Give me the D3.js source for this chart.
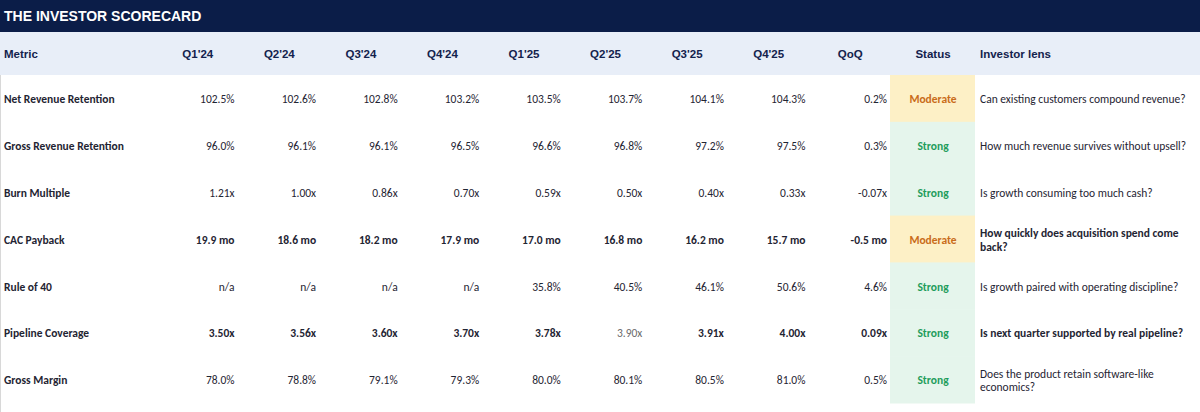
<!DOCTYPE html>
<html>
<head>
<meta charset="utf-8">
<script src="https://cdn.jsdelivr.net/npm/d3@7"></script>
<style>
  html, body { margin: 0; padding: 0; background: #fff; }
  svg { display: block; }
</style>
</head>
<body>
<svg class="scorecard"></svg>
<script>
/////////////// data ////////////////
const QUARTERS = ["Q1'24", "Q2'24", "Q3'24", "Q4'24", "Q1'25", "Q2'25", "Q3'25", "Q4'25"];
const METRICS = ["Net Revenue Retention", "Gross Revenue Retention", "Burn Multiple", "CAC Payback",
    "Rule of 40", "Pipeline Coverage", "Gross Margin"];
// unit of each metric: pct, x (multiple), mo (months)
const UNITS = ["pct", "pct", "x", "mo", "pct", "x", "pct"];
const NRR = [102.5, 102.6, 102.8, 103.2, 103.5, 103.7, 104.1, 104.3];
const GRR = [96.0, 96.1, 96.1, 96.5, 96.6, 96.8, 97.2, 97.5];
const BURN = [1.21, 1.00, 0.86, 0.70, 0.59, 0.50, 0.40, 0.33];
const CAC = [19.9, 18.6, 18.2, 17.9, 17.0, 16.8, 16.2, 15.7];
const RULE40 = [null, null, null, null, 35.8, 40.5, 46.1, 50.6];
const PIPELINE = [3.50, 3.56, 3.60, 3.70, 3.78, 3.90, 3.91, 4.00];
const GM = [78.0, 78.8, 79.1, 79.3, 80.0, 80.1, 80.5, 81.0];
const SERIES = [NRR, GRR, BURN, CAC, RULE40, PIPELINE, GM];
const QOQ = [0.2, 0.3, -0.07, -0.5, 4.6, 0.09, 0.5];
const STATUS = ["Moderate", "Strong", "Strong", "Moderate", "Strong", "Strong", "Strong"];
const LENS = ["Can existing customers compound revenue?",
    "How much revenue survives without upsell?",
    "Is growth consuming too much cash?",
    "How quickly does acquisition spend come back?",
    "Is growth paired with operating discipline?",
    "Is next quarter supported by real pipeline?",
    "Does the product retain software-like economics?"];
// rows written in bold (CAC Payback, Pipeline Coverage)
const BOLD_ROWS = [3, 5];
// Pipeline Coverage Q2'25 cell is plain grey
const PLAIN_CELLS = [[5, 5]];

/////////////// layout ////////////////
const W = 1200;
const H = 412;
const TITLE_H = 32;
const HEAD_H = 43;
const BODY_TOP = TITLE_H + HEAD_H;
const BODY_BOT = 403;
const NUM_X0 = 157;
const NUM_X1 = 891;
const STATUS_X1 = 975;
const PAD = 4;
const HEAD_FONT = "'Liberation Sans', Arial, sans-serif";
const BODY_FONT = "Carlito, Calibri, Lato, sans-serif";
const NAVY = "#0b1d48";
const HEAD_FILL = "#e8eef8";
const HEAD_TXT = "#13224d";
const BODY_TXT = "#1f2533";
const STATUS_FILL = { Moderate: "#fdf0c6", Strong: "#e5f5ec" };
const STATUS_TXT = { Moderate: "#c96c1a", Strong: "#1f9d5c" };

const SVG = d3.select(".scorecard")
    .attr("width", W)
    .attr("height", H);

const NUM_COLS = QUARTERS.concat(["QoQ"]);
const SCL_COL = d3.scaleBand()
    .domain(d3.range(NUM_COLS.length))
    .range([NUM_X0, NUM_X1]);
const SCL_ROW = d3.scaleBand()
    .domain(d3.range(METRICS.length))
    .range([BODY_TOP, BODY_BOT]);

// plain hyphen for negatives, like the source sheet
const LOCALE = d3.formatLocale({ decimal: ".", thousands: ",", grouping: [3], currency: ["$", ""], minus: "-" });
function fmt(v, unit) {
    if (v == null) return "n/a";
    if (unit == "pct") return LOCALE.format(".1f")(v) + "%";
    if (unit == "x") return LOCALE.format(".2f")(v) + "x";
    return LOCALE.format(".1f")(v) + " mo";
}

/////////////// title + header ////////////////
SVG.append("rect")
    .attr("width", W).attr("height", TITLE_H)
    .attr("fill", NAVY);
SVG.append("text")
    .attr("x", 4).attr("y", TITLE_H / 2 + 1)
    .attr("dominant-baseline", "middle")
    .attr("font-family", HEAD_FONT)
    .attr("font-weight", "bold")
    .attr("font-size", 14)
    .attr("fill", "#fff")
    .text("THE INVESTOR SCORECARD");
SVG.append("rect")
    .attr("y", TITLE_H).attr("width", W).attr("height", HEAD_H)
    .attr("fill", HEAD_FILL);
const HEAD_Y = TITLE_H + HEAD_H / 2 + 1;
const headGrp = SVG.append("g")
    .attr("font-family", HEAD_FONT)
    .attr("font-weight", "bold")
    .attr("font-size", 11.5)
    .attr("fill", HEAD_TXT)
    .attr("dominant-baseline", "middle");
headGrp.append("text").attr("x", 4).attr("y", HEAD_Y).text("Metric");
headGrp.selectAll(".colHead")
    .data(NUM_COLS)
    .enter()
    .append("text")
    .attr("class", "colHead")
    .attr("x", (d, i) => SCL_COL(i) + SCL_COL.bandwidth() / 2)
    .attr("y", HEAD_Y)
    .attr("text-anchor", "middle")
    .text(d => d);
headGrp.append("text")
    .attr("x", (NUM_X1 + STATUS_X1) / 2).attr("y", HEAD_Y)
    .attr("text-anchor", "middle").text("Status");
headGrp.append("text").attr("x", STATUS_X1 + 5).attr("y", HEAD_Y).text("Investor lens");

// faint left edge
SVG.append("line")
    .attr("x1", 0.5).attr("x2", 0.5).attr("y1", BODY_TOP).attr("y2", H)
    .attr("stroke", "#d8d8d8");

/////////////// body rows ////////////////
const ROWS = SVG.selectAll(".row")
    .data(METRICS)
    .enter()
    .append("g")
    .attr("class", "row")
    .attr("transform", (d, i) => `translate(0, ${SCL_ROW(i)})`)
    .attr("font-family", BODY_FONT)
    .attr("font-size", 11.5)
    .attr("fill", BODY_TXT);
const MID = SCL_ROW.bandwidth() / 2 + 2;

// status cells
ROWS.append("rect")
    .attr("x", NUM_X1 - 1)
    .attr("width", STATUS_X1 - NUM_X1 + 1)
    .attr("height", SCL_ROW.bandwidth() + 0.5)
    .attr("fill", (d, i) => STATUS_FILL[STATUS[i]]);
ROWS.append("text")
    .attr("x", (NUM_X1 + STATUS_X1) / 2)
    .attr("y", MID)
    .attr("text-anchor", "middle")
    .attr("dominant-baseline", "middle")
    .attr("font-weight", "bold")
    .attr("fill", (d, i) => STATUS_TXT[STATUS[i]])
    .text((d, i) => STATUS[i]);

// metric names
ROWS.append("text")
    .attr("x", 4).attr("y", MID)
    .attr("dominant-baseline", "middle")
    .attr("font-weight", "bold")
    .text(d => d);

// numeric cells
ROWS.each(function (m, r) {
    const vals = SERIES[r].map(v => fmt(v, UNITS[r])).concat([fmt(QOQ[r], UNITS[r])]);
    const isPlain = i => PLAIN_CELLS.some(c => c[0] == r && c[1] == i);
    d3.select(this).selectAll(".num")
        .data(vals)
        .enter()
        .append("text")
        .attr("class", "num")
        .attr("x", (d, i) => SCL_COL(i) + SCL_COL.bandwidth() - PAD)
        .attr("y", MID)
        .attr("text-anchor", "end")
        .attr("dominant-baseline", "middle")
        .attr("font-weight", (d, i) => BOLD_ROWS.includes(r) && !isPlain(i) ? "bold" : "normal")
        .attr("fill", (d, i) => isPlain(i) ? "#6b6b6b" : BODY_TXT)
        .text(d => d);
});

// investor lens, wrapped to the cell
const LENS_W = W - STATUS_X1 - 12;
ROWS.each(function (m, r) {
    const t = d3.select(this).append("text")
        .attr("x", STATUS_X1 + 5)
        .attr("font-weight", BOLD_ROWS.includes(r) ? "bold" : "normal");
    const words = LENS[r].split(" ");
    let lines = [];
    let line = [];
    let tsp = t.append("tspan");
    words.forEach(w => {
        line.push(w);
        tsp.text(line.join(" "));
        if (tsp.node().getComputedTextLength() > LENS_W && line.length > 1) {
            line.pop();
            lines.push(line.join(" "));
            line = [w];
        }
    });
    lines.push(line.join(" "));
    tsp.remove();
    const LINE_H = 13.5;
    const y0 = MID - (lines.length - 1) * LINE_H / 2;
    lines.forEach((l, k) => {
        t.append("tspan")
            .attr("x", STATUS_X1 + 5)
            .attr("y", y0 + k * LINE_H)
            .attr("dominant-baseline", "middle")
            .text(l);
    });
});
</script>
</body>
</html>
